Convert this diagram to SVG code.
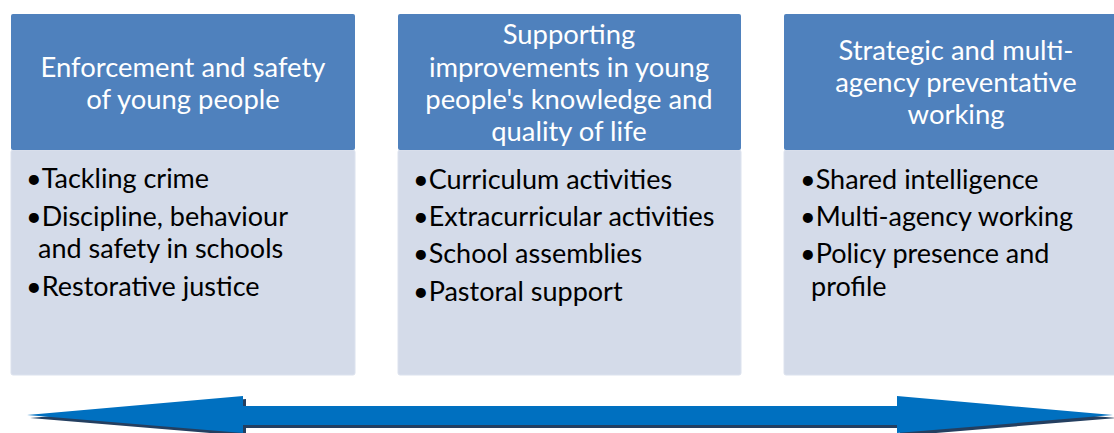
<svg xmlns="http://www.w3.org/2000/svg" width="1114" height="433" viewBox="0 0 1114 433">
<style>
.hdr{fill:#4F81BD}
.body{fill:#D4DBE9;stroke:#DCE2EE;stroke-width:1}
.ht{font-family:Lato,"Open Sans",sans-serif;font-size:27.4px;fill:#FFFFFF;text-anchor:middle}
.bt{font-family:Lato,"Open Sans",sans-serif;font-size:27px;fill:#000000}
</style>
<rect width="1114" height="433" fill="#FFFFFF"/>
<g id="node1">
<rect class="body" x="11" y="150" width="344" height="225" rx="2"/>
<rect class="hdr" x="11" y="14" width="344" height="136" rx="2"/>
<text class="ht" x="183" y="77">Enforcement and safety</text>
<text class="ht" x="183" y="109">of young people</text>
<text class="bt" x="26" y="188">•Tackling crime</text>
<text class="bt" x="26" y="226">•Discipline, behaviour</text>
<text class="bt" x="38" y="258">and safety in schools</text>
<text class="bt" x="26" y="296">•Restorative justice</text>
</g>
<g id="node2">
<rect class="body" x="398" y="150" width="343" height="225" rx="2"/>
<rect class="hdr" x="398" y="14" width="343" height="136" rx="2"/>
<text class="ht" x="569" y="44">Supporting</text>
<text class="ht" x="569" y="77">improvements in young</text>
<text class="ht" x="569" y="109">people's knowledge and</text>
<text class="ht" x="569" y="141">quality of life</text>
<text class="bt" x="413" y="189">•Curriculum activities</text>
<text class="bt" x="413" y="226">•Extracurricular activities</text>
<text class="bt" x="413" y="263">•School assemblies</text>
<text class="bt" x="413" y="301">•Pastoral support</text>
</g>
<g id="node3">
<rect class="body" x="784" y="150" width="344" height="225" rx="2"/>
<rect class="hdr" x="784" y="14" width="344" height="136" rx="2"/>
<text class="ht" x="956" y="60">Strategic and multi-</text>
<text class="ht" x="956" y="92">agency preventative</text>
<text class="ht" x="956" y="124">working</text>
<text class="bt" x="800" y="189">•Shared intelligence</text>
<text class="bt" x="800" y="226">•Multi-agency working</text>
<text class="bt" x="800" y="263">•Policy presence and</text>
<text class="bt" x="811" y="296">profile</text>
</g>
<g id="connectors">
<polygon points="30,418 246,399 246,409 900,409 900,399 1116,418 900,436 900,428 246,428 246,436" fill="#243F60"/>
<polygon points="27,415 243,396 243,406 897,406 897,396 1113,415 897,433 897,425 243,425 243,433" fill="#0070C0"/>
</g>
</svg>
